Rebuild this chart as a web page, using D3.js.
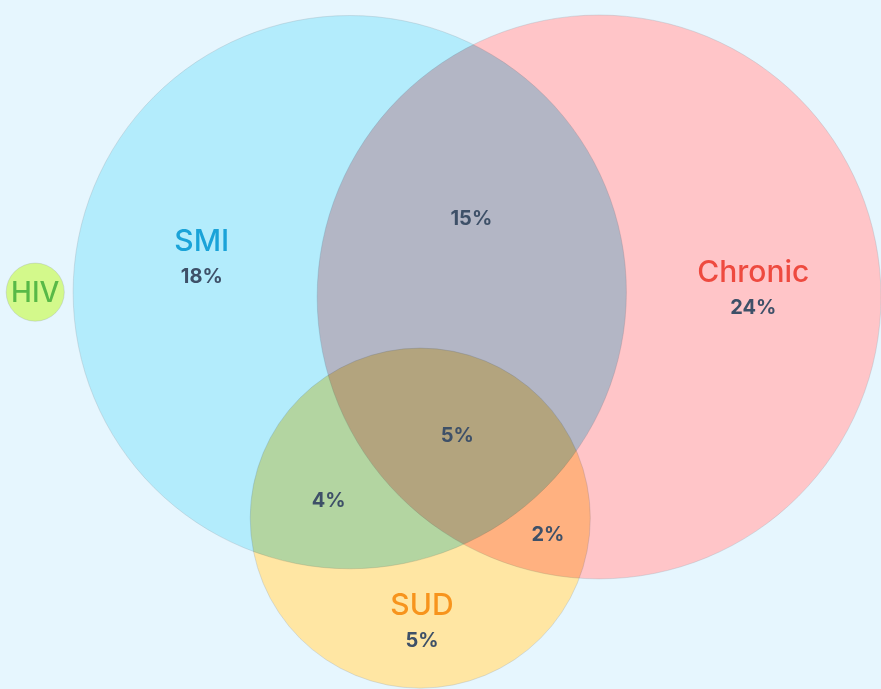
<!DOCTYPE html>
<html>
<head>
<meta charset="utf-8">
<script src="https://cdn.jsdelivr.net/npm/d3@7"></script>
<style>
  html, body { margin: 0; padding: 0; background: #e6f6fe; }
  #chart { width: 881px; height: 689px; overflow: hidden; }
  text { font-family: Inter, "Noto Sans", sans-serif; }
</style>
</head>
<body>
<div id="chart"></div>
<script>
// data
const sets = ["SMI", "Chronic", "SUD", "HIV"];
const setOnly = ["18%", "24%", "5%", ""];
const overlaps = [["SMI", "Chronic"], ["SMI", "Chronic", "SUD"], ["SMI", "SUD"], ["Chronic", "SUD"]];
const overlapValues = ["15%", "5%", "4%", "2%"];

const width = 881, height = 689;

// layout (circle geometry in layout units, 0..100)
const layout = {
  SMI:     {cx: 39.7, cy: 42.4, r: 31.4, fill: "#b3ecfc", color: "#1aa3d8", lx: 22.9, ly: 36.5},
  Chronic: {cx: 68.0, cy: 43.1, r: 32.0, fill: "#ffc5c8", color: "#ee4a3f", lx: 85.5, ly: 41.0},
  SUD:     {cx: 47.7, cy: 75.2, r: 19.3, fill: "#ffe6a3", color: "#f7941d", lx: 47.9, ly: 89.3},
  HIV:     {cx: 4.0,  cy: 42.4, r: 3.3,  fill: "#d3f98b", color: "#58b947", lx: 4.0, ly: 42.4}
};
const overlapPos = [[53.5, 31.6], [51.9, 63.1], [37.3, 72.6], [62.2, 77.5]];

const x = d3.scaleLinear().domain([0, 100]).range([0, width]);
const y = d3.scaleLinear().domain([0, 100]).range([0, height]);
const r = d3.scaleLinear().domain([0, 100]).range([0, width]);

const svg = d3.select('#chart')
  .append('svg')
  .attr('width', width)
  .attr('height', height);

svg.append('rect')
  .attr('width', width)
  .attr('height', height)
  .attr('fill', '#e6f6fe');

// circles blended with multiply inside an isolated group
const g = svg.append('g').style('isolation', 'isolate');

g.selectAll('circle')
  .data(sets)
  .enter()
  .append('circle')
    .attr('cx', d => x(layout[d].cx))
    .attr('cy', d => y(layout[d].cy))
    .attr('r', d => r(layout[d].r))
    .attr('fill', d => layout[d].fill)
    .attr('stroke', '#9aa6b0')
    .attr('stroke-opacity', 0.4)
    .attr('stroke-width', 0.8)
    .style('mix-blend-mode', 'multiply');

// set names
svg.selectAll('.setName')
  .data(sets)
  .enter()
  .append('text')
    .attr('class', 'setName')
    .attr('x', d => x(layout[d].lx))
    .attr('y', d => y(layout[d].ly))
    .attr('text-anchor', 'middle')
    .attr('dominant-baseline', d => d == "HIV" ? 'central' : 'auto')
    .attr('font-size', d => d == "HIV" ? 28 : 30)
    .attr('font-weight', 500)
    .attr('fill', d => layout[d].color)
    .text(d => d);

// set-only values
svg.selectAll('.setValue')
  .data(sets.filter((d, i) => setOnly[i] != ""))
  .enter()
  .append('text')
    .attr('class', 'setValue')
    .attr('x', d => x(layout[d].lx))
    .attr('y', d => y(layout[d].ly) + 32)
    .attr('text-anchor', 'middle')
    .attr('font-size', 20)
    .attr('font-weight', 700)
    .attr('fill', '#3e5068')
    .text(d => setOnly[sets.indexOf(d)]);

// overlap values
svg.selectAll('.overlap')
  .data(overlaps)
  .enter()
  .append('text')
    .attr('class', 'overlap')
    .attr('x', (d, i) => x(overlapPos[i][0]))
    .attr('y', (d, i) => y(overlapPos[i][1]))
    .attr('text-anchor', 'middle')
    .attr('dominant-baseline', 'central')
    .attr('font-size', 20)
    .attr('font-weight', 700)
    .attr('fill', '#3e5068')
    .text((d, i) => overlapValues[i]);
</script>
</body>
</html>
